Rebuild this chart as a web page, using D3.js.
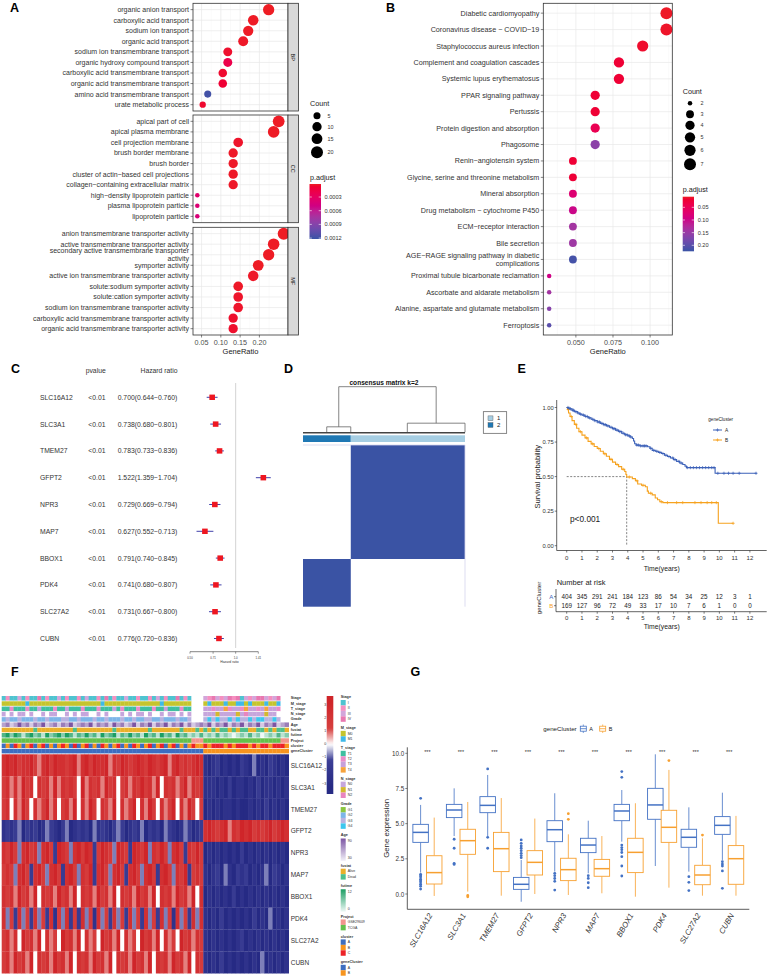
<!DOCTYPE html>
<html>
<head>
<meta charset="utf-8">
<title>Figure</title>
<script src="https://cdn.jsdelivr.net/npm/d3@7/dist/d3.min.js"></script>
<style>
body { margin: 0; background: #fff; }
svg { font-family: "Liberation Sans", Arial, Helvetica, sans-serif; }
</style>
</head>
<body>
<svg id="fig" width="769" height="978"></svg>
<script>
// ---------- A: GO enrichment ----------
const bpTerms = ['organic anion transport', 'carboxylic acid transport', 'sodium ion transport', 'organic acid transport', 'sodium ion transmembrane transport', 'organic hydroxy compound transport', 'carboxylic acid transmembrane transport', 'organic acid transmembrane transport', 'amino acid transmembrane transport', 'urate metabolic process'];
const bpCount = [17, 14, 13, 12, 9, 9, 8, 8, 5, 4];
const bpRatio = [0.224, 0.184, 0.171, 0.158, 0.118, 0.118, 0.105, 0.105, 0.066, 0.053];
const bpPadj = [0.000015, 0.00002, 0.00002, 0.00003, 0.00005, 0.00018, 0.00006, 0.00008, 0.00118, 0.00006];

const ccTerms = ['apical part of cell', 'apical plasma membrane', 'cell projection membrane', 'brush border membrane', 'brush border', 'cluster of actin−based cell projections', 'collagen−containing extracellular matrix', 'high−density lipoprotein particle', 'plasma lipoprotein particle', 'lipoprotein particle'];
const ccCount = [19, 18, 11, 10, 10, 10, 10, 3, 3, 3];
const ccRatio = [0.250, 0.237, 0.145, 0.132, 0.132, 0.132, 0.132, 0.039, 0.039, 0.039];
const ccPadj = [0.00002, 0.00002, 0.00004, 0.00003, 0.00003, 0.00003, 0.00003, 0.00036, 0.0004, 0.00043];

const mfTerms = ['anion transmembrane transporter activity', 'active transmembrane transporter activity', 'secondary active transmembrane transporter activity', 'symporter activity', 'active ion transmembrane transporter activity', 'solute:sodium symporter activity', 'solute:cation symporter activity', 'sodium ion transmembrane transporter activity', 'carboxylic acid transmembrane transporter activity', 'organic acid transmembrane transporter activity'];
const mfCount = [20, 18, 17, 15, 14, 11, 11, 11, 10, 10];
const mfRatio = [0.263, 0.237, 0.224, 0.197, 0.184, 0.145, 0.145, 0.145, 0.132, 0.132];
const mfPadj = [0.000015, 0.00002, 0.00002, 0.00002, 0.00003, 0.00003, 0.00004, 0.00004, 0.00005, 0.00005];

const goTicks = [0.05, 0.10, 0.15, 0.20];
const goMinor = [0.075, 0.125, 0.175, 0.225];
const goLegCounts = [5, 10, 15, 20];
const goLegPadj = [0.0003, 0.0006, 0.0009, 0.0012];

// ---------- B: KEGG ----------
const keggTerms = ['Diabetic cardiomyopathy', 'Coronavirus disease − COVID−19', 'Staphylococcus aureus infection', 'Complement and coagulation cascades', 'Systemic lupus erythematosus', 'PPAR signaling pathway', 'Pertussis', 'Protein digestion and absorption', 'Phagosome', 'Renin−angiotensin system', 'Glycine, serine and threonine metabolism', 'Mineral absorption', 'Drug metabolism − cytochrome P450', 'ECM−receptor interaction', 'Bile secretion', 'AGE−RAGE signaling pathway in diabetic complications', 'Proximal tubule bicarbonate reclamation', 'Ascorbate and aldarate metabolism', 'Alanine, aspartate and glutamate metabolism', 'Ferroptosis'];
const keggCount = [7, 7, 6, 5, 5, 4, 4, 4, 4, 3, 3, 3, 3, 3, 3, 3, 2, 2, 2, 2];
const keggRatio = [0.111, 0.111, 0.095, 0.079, 0.079, 0.063, 0.063, 0.063, 0.063, 0.048, 0.048, 0.048, 0.048, 0.048, 0.048, 0.048, 0.032, 0.032, 0.032, 0.032];
const keggPadj = [0.010, 0.012, 0.015, 0.020, 0.020, 0.020, 0.020, 0.045, 0.160, 0.020, 0.022, 0.075, 0.100, 0.140, 0.145, 0.215, 0.095, 0.140, 0.165, 0.200];
const keggTicks = [0.050, 0.075, 0.100];
const keggMinor = [0.0375, 0.0625, 0.0875, 0.1125];
const keggLegCounts = [2, 3, 4, 5, 6, 7];
const keggLegPadj = [0.05, 0.10, 0.15, 0.20];

// ---------- C: univariate Cox ----------
const coxGenes = ['SLC16A12', 'SLC3A1', 'TMEM27', 'GFPT2', 'NPR3', 'MAP7', 'BBOX1', 'PDK4', 'SLC27A2', 'CUBN'];
const coxP = ['<0.01', '<0.01', '<0.01', '<0.01', '<0.01', '<0.01', '<0.01', '<0.01', '<0.01', '<0.01'];
const coxHR = [0.700, 0.738, 0.783, 1.522, 0.729, 0.627, 0.791, 0.741, 0.731, 0.776];
const coxLo = [0.644, 0.680, 0.733, 1.359, 0.669, 0.552, 0.740, 0.680, 0.667, 0.720];
const coxHi = [0.760, 0.801, 0.836, 1.704, 0.794, 0.713, 0.845, 0.807, 0.800, 0.836];
const coxTicks = [0.50, 0.71, 1.0, 1.41];
const coxTickLabels = ['0.50', '0.71', '1.0', '1.41'];

// ---------- D: consensus matrix ----------
const consSizes = [404, 169];
const consColors = ['#A6CEE3', '#1F78B4'];
const dendroLeft = { kids: [84, 169], h: 0.12 };
const dendroRight = { kids: [369, 573], h: 0.2 };

// ---------- E: Kaplan-Meier ----------
const survA = [[0, 1], [0.1, 0.995], [0.2, 0.99], [0.35, 0.98], [0.5, 0.97], [0.7, 0.96], [0.85, 0.952], [1.0, 0.945], [1.2, 0.935], [1.4, 0.925], [1.6, 0.915], [1.8, 0.905], [2.0, 0.895], [2.2, 0.885], [2.4, 0.876], [2.6, 0.867], [2.8, 0.857], [3.0, 0.847], [3.2, 0.836], [3.4, 0.826], [3.6, 0.814], [3.8, 0.803], [4.0, 0.795], [4.15, 0.787], [4.3, 0.776], [4.38, 0.758], [4.45, 0.738], [4.55, 0.728], [4.8, 0.722], [5.3, 0.716], [5.45, 0.705], [5.6, 0.69], [5.8, 0.683], [6.0, 0.675], [6.2, 0.667], [6.4, 0.655], [6.6, 0.645], [6.8, 0.635], [7.0, 0.623], [7.2, 0.61], [7.4, 0.598], [7.6, 0.588], [7.75, 0.576], [7.85, 0.565], [9.72, 0.524], [12.45, 0.524]];
const survB = [[0, 1], [0.05, 0.985], [0.12, 0.96], [0.22, 0.935], [0.35, 0.905], [0.5, 0.878], [0.65, 0.85], [0.8, 0.825], [1.0, 0.8], [1.2, 0.78], [1.4, 0.755], [1.6, 0.737], [1.8, 0.718], [2.0, 0.703], [2.2, 0.683], [2.4, 0.665], [2.6, 0.647], [2.8, 0.625], [3.0, 0.605], [3.2, 0.588], [3.4, 0.572], [3.6, 0.553], [3.8, 0.537], [3.88, 0.515], [3.93, 0.497], [4.3, 0.485], [4.5, 0.47], [4.65, 0.447], [4.9, 0.437], [5.15, 0.427], [5.28, 0.395], [5.35, 0.38], [5.6, 0.368], [5.8, 0.345], [5.95, 0.333], [6.1, 0.318], [6.3, 0.312], [9.93, 0.162], [10.92, 0.162]];
const censA = [0.08, 0.15, 0.25, 0.4, 0.45, 0.6, 0.75, 0.9, 1.1, 1.25, 1.35, 1.5, 1.7, 1.85, 2.05, 2.15, 2.3, 2.45, 2.55, 2.7, 2.9, 3.05, 3.15, 3.3, 3.45, 3.55, 3.7, 3.85, 3.95, 4.1, 4.2, 4.6, 4.7, 4.85, 5.0, 5.1, 5.2, 5.5, 5.7, 5.9, 6.1, 6.3, 6.5, 6.7, 6.95, 7.1, 7.35, 7.5, 7.9, 8.1, 8.3, 8.5, 8.7, 8.9, 9.1, 9.3, 9.5, 9.65, 9.9, 10.3, 10.6, 10.9, 11.3, 12.4];
const censB = [0.1, 0.3, 0.6, 0.9, 1.3, 1.7, 2.1, 2.5, 2.9, 3.3, 3.7, 4.1, 4.6, 5.0, 5.5, 6.2, 6.6, 7.2, 7.6, 8.4, 8.8, 9.2, 9.5, 9.8, 10.9];
const timeTicks = [0, 1, 2, 3, 4, 5, 6, 7, 8, 9, 10, 11, 12];
const survTicks = [0, 0.25, 0.5, 0.75, 1];
const riskA = [404, 345, 291, 241, 184, 123, 86, 54, 34, 25, 12, 3, 1];
const riskB = [169, 127, 96, 72, 49, 33, 17, 10, 7, 6, 1, 0, 0];

// ---------- F: heatmap (levels 0..8 per sample block; part A | part B) ----------
const heatGenes = ['SLC16A12', 'SLC3A1', 'TMEM27', 'GFPT2', 'NPR3', 'MAP7', 'BBOX1', 'PDK4', 'SLC27A2', 'CUBN'];
const heatA = [
  '787867786578687767857868778576876787687678578676787',
  '675758674767585767648576758674675768675847675685767',
  '674758647568574675847586476584756847586475684758646',
  '121230212013210230121203121023201213021203210132012',
  '768637867378628763786872687638762876837686378627686',
  '676378627863786278637682786378627863786278637682676',
  '767586758476758675847675867584767586758476758675847',
  '736273627362716372627361736273627362736273617362737',
  '675748675847564867584756486758475648675847564867576',
  '675867584767586758476758675847675867584767586758476'];
const heatB = [
  '101201010210301021010',
  '111010201101020110101',
  '010101101001010201010',
  '787678576878676786787',
  '010101010201010101010',
  '101203102120101302101',
  '010101020101010101010',
  '101020101010201030101',
  '101010101201010101010',
  '101020101010103010101'];
const annNames = ['Stage', 'M_stage', 'T_stage', 'N_stage', 'Grade', 'Age', 'fustat', 'futime', 'Project', 'cluster', 'geneCluster'];
const annA = [
  '121131211412113121121311214121131121121312114121...',
  '000000100000000000000000010000000000000010000000...',
  '112111211311121131112111211131211121112113111211...',
  '0.0.00.0..0.00..0.0.00..0.0...0.0.00.0..0.00.0.0...',
  '232232223223222332232223223222322322332232223223...',
  '231242313241231324123241323142312413241324132413123',
  'aaaaaaaadaaaaaaaaadaaaaaaaaadaaaaaaaadaaaaaaadaaada',
  '342431342314234243132423142341324231423142314231213',
  'TTTTTTTTTTTTTTTTTTTTTTTTTTTTTTTTTTTTTTTTTTTTTTTTGGG',
  'abacbabcabcababcbacabcabacbabcabacbabcabcabcababcbb',
  'aaaaaaaaaaaaaaaaaaaaaaaaaaaaaaaaaaaaaaaaaaaaaaaaaaa'];
const annB = [
  '3243234241323443234..',
  '0100010011010001001..',
  '3323342332433234332..',
  '000100001020000100...',
  '3434334343343443343..',
  '241324132413241324123',
  'dadaddadaddaaddadadda',
  '121312101213120121312',
  'TTTTTTTTTTTTTTTTTTTGG',
  'cbcccbcbcccbcbccbcccb',
  'bbbbbbbbbbbbbbbbbbbbb'];
const heatLegTicks = [3, 2, 1, 0, -1, -2, -3];

// ---------- G: expression boxplots [lower, q1, median, q3, upper] ----------
const boxGenes = ['SLC16A12', 'SLC3A1', 'TMEM27', 'GFPT2', 'NPR3', 'MAP7', 'BBOX1', 'PDK4', 'SLC27A2', 'CUBN'];
const boxA = [[1.52, 3.67, 4.38, 4.95, 6.33], [4.12, 5.43, 5.97, 6.37, 7.51], [4.12, 5.78, 6.30, 6.92, 8.46], [-0.55, 0.33, 0.69, 1.18, 2.42], [1.59, 3.72, 4.57, 5.21, 7.16], [1.47, 2.94, 3.48, 3.96, 5.21], [3.72, 5.21, 5.90, 6.37, 7.39], [1.99, 5.31, 6.33, 7.51, 9.93], [1.59, 3.32, 4.03, 4.60, 6.16], [2.42, 4.24, 4.88, 5.50, 7.20]];
const boxB = [[-0.14, 0.71, 1.52, 2.72, 5.43], [0.17, 2.82, 3.79, 4.60, 6.54], [-0.12, 1.59, 3.22, 4.38, 6.82], [0.00, 1.35, 2.25, 3.08, 5.36], [-0.07, 0.95, 1.73, 2.54, 4.24], [0.05, 1.26, 1.80, 2.46, 4.12], [-0.19, 1.52, 2.96, 3.96, 6.45], [0.45, 3.67, 4.74, 5.95, 8.82], [-0.12, 0.66, 1.35, 2.04, 3.96], [-0.12, 0.69, 2.51, 3.44, 5.55]];
const outA = [[6.8, 1.4, 1.3, 1.2, 1.05, 0.95, 0.85, 0.7, 0.55, 0.35], [3.89, 3.25, 2.18, 2.1], [8.89, 4.03, 3.25], [3.84, 3.6, 3.41, 3.25, 3.08, 2.89, 2.73, 2.58], [1.47, 1.3, 1.1, 0.9, 0.28], [1.3, 1.11, 0.8, 0.45], [8.7, 8.29, 3.48, 3.3, 3.15, 2.95, 2.65, 1.99, 1.28], [], [1.23, 0.83, 0.24], [2.3, 2.13, 1.99, 1.64, 0.4]];
const outB = [[], [-0.1, -0.2], [], [], [5.71, 5.31], [], [], [9.48], [4.19], []];
const exprTicks = [0, 2.5, 5, 7.5, 10];

// =====================================================================
const svg = d3.select('#fig');
const defs = svg.append('defs');
const TXT = '#333';
const BLUE_A = '#3D62B9', ORANGE_B = '#F6A21E';

function txt(g, x, y, s, size, o = {}) {
  const t = g.append('text').attr('x', x).attr('y', y).text(s)
    .style('font-size', size + 'px').attr('fill', o.fill || TXT);
  if (o.anchor) t.attr('text-anchor', o.anchor);
  if (o.weight) t.style('font-weight', o.weight);
  if (o.italic) t.style('font-style', 'italic');
  if (o.base) t.attr('dominant-baseline', o.base);
  if (o.rot != null) t.attr('transform', `rotate(${o.rot},${x},${y})`);
  return t;
}
function seg(g, x1, y1, x2, y2, col, w) {
  return g.append('line').attr('x1', x1).attr('y1', y1).attr('x2', x2).attr('y2', y2)
    .attr('stroke', col).attr('stroke-width', w);
}

// panel letters
[['A', 10, 11.7], ['B', 386, 11.7], ['C', 11, 373], ['D', 284, 373], ['E', 517.5, 373], ['F', 11, 676], ['G', 410.5, 676]]
  .forEach(d => txt(svg, d[1], d[2], d[0], 12.5, { weight: 'bold', fill: '#000' }));

// ---------- dot plot helpers ----------
const padjScale = dom => d3.scaleLinear().domain(dom).range(['#EE1D24', '#3953A5']).interpolate(d3.interpolateHcl).clamp(true);
function sizeFn(lo, hi) {
  const s = d3.scaleLinear().domain([0, 1]).range([2.25, 6]);
  return n => s(Math.sqrt((n - lo) / (hi - lo)));
}
function wrapLabel(s, w) {
  if (s.length <= 50) return [s];
  const lines = []; let cur = '';
  s.split(' ').forEach(wd => {
    const nx = cur ? cur + ' ' + wd : wd;
    if (nx.length > w && cur) { lines.push(cur); cur = wd; } else cur = nx;
  });
  lines.push(cur);
  return lines;
}
function dotPanel(g, terms, counts, ratios, padj, x, top, bottom, color, radius, fs, major, minor) {
  const y = d3.scalePoint().domain(terms).range([top, bottom]).padding(0.6);
  const [x0, x1] = x.range();
  g.append('rect').attr('x', x0).attr('y', top).attr('width', x1 - x0).attr('height', bottom - top).attr('fill', '#fff');
  minor.forEach(v => seg(g, x(v), top, x(v), bottom, '#F2F2F2', 0.4));
  major.forEach(v => seg(g, x(v), top, x(v), bottom, '#E8E8E8', 0.7));
  terms.forEach(t => seg(g, x0, y(t), x1, y(t), '#E8E8E8', 0.7));
  g.selectAll(null).data(terms).join('circle')
    .attr('cx', (d, i) => x(ratios[i])).attr('cy', d => y(d))
    .attr('r', (d, i) => radius(counts[i])).attr('fill', (d, i) => color(padj[i]));
  g.append('rect').attr('x', x0).attr('y', top).attr('width', x1 - x0).attr('height', bottom - top)
    .attr('fill', 'none').attr('stroke', '#333').attr('stroke-width', 0.8);
  terms.forEach(t => {
    seg(g, x0 - 2.5, y(t), x0, y(t), '#333', 0.6);
    const lines = wrapLabel(t, 43);
    const tx = g.append('text').attr('text-anchor', 'end').style('font-size', fs + 'px').attr('fill', TXT);
    lines.forEach((ln, j) => tx.append('tspan').attr('x', x0 - 4)
      .attr('y', y(t) + (j - (lines.length - 1) / 2) * fs * 1.15).attr('dy', '0.35em').text(ln));
  });
  return y;
}
function dotXAxis(g, x, yb, ticks, fmt) {
  ticks.forEach(v => {
    seg(g, x(v), yb, x(v), yb + 2.5, '#333', 0.6);
    txt(g, x(v), yb + 9.5, fmt(v), 7.2, { anchor: 'middle', fill: '#4D4D4D' });
  });
  const [x0, x1] = x.range();
  txt(g, (x0 + x1) / 2, yb + 18.5, 'GeneRatio', 7.5, { anchor: 'middle', fill: '#1A1A1A' });
}
let gradN = 0;
function colorbar(g, scale, dom, x, y, w, h, ticks, fmt, labelX) {
  const id = 'grad' + (gradN++);
  const grad = defs.append('linearGradient').attr('id', id).attr('x1', 0).attr('y1', 0).attr('x2', 0).attr('y2', 1);
  d3.range(0, 21).forEach(i => grad.append('stop').attr('offset', i / 20).attr('stop-color', scale(dom[0] + i / 20 * (dom[1] - dom[0]))));
  g.append('rect').attr('x', x).attr('y', y).attr('width', w).attr('height', h).attr('fill', `url(#${id})`);
  const yb = d3.scaleLinear().domain(dom).range([y, y + h]);
  ticks.forEach(v => {
    seg(g, x, yb(v), x + w * 0.2, yb(v), '#fff', 0.6);
    seg(g, x + w * 0.8, yb(v), x + w, yb(v), '#fff', 0.6);
    txt(g, labelX, yb(v), fmt(v), 5.6, { base: 'central' });
  });
}

// ---------- Panel A ----------
const gA = svg.append('g');
const aRatios = bpRatio.concat(ccRatio, mfRatio);
const aCounts = bpCount.concat(ccCount, mfCount);
const [ar0, ar1] = d3.extent(aRatios);
const xA = d3.scaleLinear().domain([ar0 - (ar1 - ar0) * 0.05, ar1 + (ar1 - ar0) * 0.05]).range([193, 288]);
const rA = sizeFn(d3.min(aCounts), d3.max(aCounts));
const cAdom = [0.000015, 0.00122];
const cA = padjScale(cAdom);
const facetH = 107.7;
[[bpTerms, bpCount, bpRatio, bpPadj, 'BP', 3.3], [ccTerms, ccCount, ccRatio, ccPadj, 'CC', 115], [mfTerms, mfCount, mfRatio, mfPadj, 'MF', 227.3]]
  .forEach(f => {
    dotPanel(gA, f[0], f[1], f[2], f[3], xA, f[5], f[5] + facetH, cA, rA, 7, goTicks, goMinor);
    gA.append('rect').attr('x', 288).attr('y', f[5]).attr('width', 10.5).attr('height', facetH)
      .attr('fill', '#D9D9D9').attr('stroke', '#333').attr('stroke-width', 0.8);
    txt(gA, 293.3, f[5] + facetH / 2, f[4], 5.5, { anchor: 'middle', base: 'central', rot: 90, fill: '#1A1A1A' });
  });
dotXAxis(gA, xA, 227.3 + facetH, goTicks, v => v.toFixed(2));
txt(gA, 310, 105.8, 'Count', 7.2, { fill: '#1A1A1A' });
const aLegY = [115.7, 126.7, 138.7, 152.3];
goLegCounts.forEach((c, i) => {
  gA.append('circle').attr('cx', 317).attr('cy', aLegY[i]).attr('r', rA(c)).attr('fill', '#000');
  txt(gA, 327.5, aLegY[i], String(c), 5.4, { base: 'central' });
});
txt(gA, 310, 179.5, 'p.adjust', 7.2, { fill: '#1A1A1A' });
colorbar(gA, cA, cAdom, 309.5, 184, 11.5, 55, goLegPadj, v => v.toFixed(4), 324.5);

// ---------- Panel B ----------
const gB = svg.append('g');
const [br0, br1] = d3.extent(keggRatio);
const xB = d3.scaleLinear().domain([br0 - (br1 - br0) * 0.05, br1 + (br1 - br0) * 0.05]).range([543.3, 672.3]);
const rB = sizeFn(d3.min(keggCount), d3.max(keggCount));
const cBdom = [0.008, 0.2237];
const cB = padjScale(cBdom);
dotPanel(gB, keggTerms, keggCount, keggRatio, keggPadj, xB, 3.3, 335, cB, rB, 7.2, keggTicks, keggMinor);
dotXAxis(gB, xB, 335, keggTicks, v => v.toFixed(3));
txt(gB, 682.7, 93.5, 'Count', 7.2, { fill: '#1A1A1A' });
const bLegY = [103.3, 114.3, 125.3, 137.3, 150.3, 164.3];
keggLegCounts.forEach((c, i) => {
  gB.append('circle').attr('cx', 690).attr('cy', bLegY[i]).attr('r', rB(c)).attr('fill', '#000');
  txt(gB, 700.5, bLegY[i], String(c), 5.4, { base: 'central' });
});
txt(gB, 682.7, 191.8, 'p.adjust', 7.2, { fill: '#1A1A1A' });
colorbar(gB, cB, cBdom, 682.7, 196.7, 11.3, 54.6, keggLegPadj, v => v.toFixed(2), 697.7);

// ---------- Panel C ----------
const gC = svg.append('g');
const yC = d3.scalePoint().domain(coxGenes).range([397.3, 638.5]);
const xC = d3.scaleLog().base(2).domain([0.5, 1.41]).range([190, 258.3]);
txt(gC, 95.7, 373.3, 'pvalue', 6.8, { anchor: 'middle' });
txt(gC, 159, 373.3, 'Hazard ratio', 6.8, { anchor: 'middle' });
seg(gC, xC(1), 383, xC(1), 648, '#C8C8C8', 0.8);
coxGenes.forEach((g, i) => {
  const yy = yC(g);
  txt(gC, 40, yy, g, 6.8, { base: 'central' });
  txt(gC, 88.3, yy, coxP[i], 6.8, { base: 'central' });
  txt(gC, 117.7, yy, `${coxHR[i].toFixed(3)}(${coxLo[i].toFixed(3)}−${coxHi[i].toFixed(3)})`, 6.8, { base: 'central' });
  seg(gC, xC(coxLo[i]), yy, xC(coxHi[i]), yy, '#2B2BA0', 0.9);
  gC.append('rect').attr('x', xC(coxHR[i]) - 2.8).attr('y', yy - 2.7).attr('width', 5.6).attr('height', 5.4).attr('fill', '#EE1620');
});
seg(gC, xC(0.5), 651.7, xC(1.41), 651.7, '#333', 0.6);
coxTicks.forEach((v, i) => {
  seg(gC, xC(v), 651.7, xC(v), 653.7, '#333', 0.5);
  txt(gC, xC(v), 658.8, coxTickLabels[i], 2.8, { anchor: 'middle' });
});
txt(gC, 229.5, 663, 'Hazard ratio', 3.4, { anchor: 'middle' });

// ---------- Panel D ----------
const gD = svg.append('g');
const nS = d3.sum(consSizes);
const xD = d3.scaleLinear().domain([0, nS]).range([303, 465]);
const yD = d3.scaleLinear().domain([0, nS]).range([445, 606.7]);
const hD = d3.scaleLinear().domain([0, 1]).range([432.3, 386.7]);
txt(gD, 384, 384.5, 'consensus matrix k=2', 6.6, { anchor: 'middle', weight: 'bold', fill: '#111' });
// column order: cluster 2 then cluster 1; row order: cluster 1 then cluster 2
const c2 = consSizes[1];
gD.append('rect').attr('x', xD(c2)).attr('y', yD(0)).attr('width', xD(nS) - xD(c2)).attr('height', yD(consSizes[0]) - yD(0)).attr('fill', '#3A53A4');
gD.append('rect').attr('x', xD(0)).attr('y', yD(consSizes[0])).attr('width', xD(c2) - xD(0)).attr('height', yD(nS) - yD(consSizes[0])).attr('fill', '#3A53A4');
seg(gD, xD(0), yD(0), xD(nS), yD(0), '#D4D4EE', 0.8);
seg(gD, xD(nS), yD(0), xD(nS), yD(nS), '#D4D4EE', 0.8);
gD.append('rect').attr('x', xD(0)).attr('y', 435.3).attr('width', xD(c2) - xD(0)).attr('height', 6.7).attr('fill', consColors[1]);
gD.append('rect').attr('x', xD(c2)).attr('y', 435.3).attr('width', xD(nS) - xD(c2)).attr('height', 6.7).attr('fill', consColors[0]);
const midL = d3.mean(dendroLeft.kids), midR = d3.mean(dendroRight.kids);
const dCol = '#666';
seg(gD, xD(midL), hD(1), xD(midR), hD(1), dCol, 0.8);
seg(gD, xD(midL), hD(1), xD(midL), hD(dendroLeft.h), dCol, 0.8);
seg(gD, xD(midR), hD(1), xD(midR), hD(dendroRight.h), dCol, 0.8);
[dendroLeft, dendroRight].forEach(n => {
  seg(gD, xD(n.kids[0]), hD(n.h), xD(n.kids[1]), hD(n.h), dCol, 0.8);
  n.kids.forEach(k => seg(gD, xD(k), hD(n.h), xD(k), hD(0), dCol, 0.8));
});
seg(gD, xD(0), hD(0) + 0.5, xD(nS), hD(0) + 0.5, '#444', 1.6);
gD.append('rect').attr('x', 483.3).attr('y', 411.7).attr('width', 23.4).attr('height', 21.6).attr('fill', '#fff').attr('stroke', '#555').attr('stroke-width', 0.7);
consColors.forEach((c, i) => {
  const yy = 418.3 + i * 6.7;
  gD.append('rect').attr('x', 488).attr('y', yy - 2.4).attr('width', 5).attr('height', 4.8).attr('fill', c).attr('stroke', '#555').attr('stroke-width', 0.4);
  txt(gD, 497, yy, String(i + 1), 6, { base: 'central', fill: '#222' });
});

// ---------- Panel E ----------
const gE = svg.append('g');
const xE = d3.scaleLinear().domain([0, 12]).range([566.7, 749.9]);
const yE = d3.scaleLinear().domain([0, 1]).range([545.7, 407.5]);
const eL = 556.7, eB = 550.5;
seg(gE, eL, 400, eL, eB, '#222', 0.7);
seg(gE, eL, eB, 766.7, eB, '#222', 0.7);
survTicks.forEach(v => {
  seg(gE, eL - 2, yE(v), eL, yE(v), '#222', 0.6);
  txt(gE, eL - 3, yE(v), v.toFixed(2), 5.8, { anchor: 'end', base: 'central' });
});
timeTicks.forEach(t => {
  seg(gE, xE(t), eB, xE(t), eB + 2, '#222', 0.6);
  txt(gE, xE(t), eB + 9.8, String(t), 6, { anchor: 'middle' });
});
txt(gE, 661.7, 571, 'Time(years)', 6.8, { anchor: 'middle', fill: '#222' });
txt(gE, 540.3, 476.7, 'Survival probability', 7.6, { anchor: 'middle', rot: -90, fill: '#222' });
function survAt(curve, t) { let s = 1; curve.forEach(p => { if (p[0] <= t) s = p[1]; }); return s; }
const medB = survB.find(p => p[1] <= 0.5)[0];
gE.append('path').attr('d', `M${xE(0)},${yE(0.5)}H${xE(medB)}V${yE(0)}`).attr('fill', 'none')
  .attr('stroke', '#333').attr('stroke-width', 0.6).attr('stroke-dasharray', '2,1.5');
const kmLine = d3.line().x(d => xE(d[0])).y(d => yE(d[1])).curve(d3.curveStepAfter);
function plus(g, x, y, col) {
  seg(g, x - 1.6, y, x + 1.6, y, col, 0.7);
  seg(g, x, y - 1.6, x, y + 1.6, col, 0.7);
}
[[survB, censB, ORANGE_B], [survA, censA, BLUE_A]].forEach(([cv, cs, col]) => {
  gE.append('path').attr('d', kmLine(cv)).attr('fill', 'none').attr('stroke', col).attr('stroke-width', 1.1);
  cs.forEach(t => plus(gE, xE(t), yE(survAt(cv, t)), col));
});
txt(gE, 570, 522, 'p<0.001', 8.3, { fill: '#222' });
txt(gE, 708.3, 420.8, 'geneCluster', 4.6, { fill: '#222' });
[['A', BLUE_A, 430], ['B', ORANGE_B, 440]].forEach(([lab, col, yy]) => {
  seg(gE, 713, yy, 722, yy, col, 1);
  plus(gE, 717.5, yy, col);
  txt(gE, 725, yy, lab, 4.8, { base: 'central', fill: '#222' });
});
// risk table
txt(gE, 556.7, 585, 'Number at risk', 7.5, { fill: '#222' });
const yR = d3.scalePoint().domain(['A', 'B']).range([596.7, 605.7]);
seg(gE, 556, 589, 556, 611.7, '#222', 0.7);
seg(gE, 556, 611.7, 766.7, 611.7, '#222', 0.7);
[['A', BLUE_A, riskA], ['B', ORANGE_B, riskB]].forEach(([lab, col, vals]) => {
  seg(gE, 554, yR(lab), 556, yR(lab), '#222', 0.6);
  txt(gE, 553.3, yR(lab), lab, 6, { anchor: 'end', base: 'central', fill: col });
  vals.forEach((v, i) => txt(gE, xE(timeTicks[i]), yR(lab), String(v), 6.3, { anchor: 'middle', base: 'central', fill: '#222' }));
});
timeTicks.forEach(t => {
  seg(gE, xE(t), 611.7, xE(t), 613.7, '#222', 0.6);
  txt(gE, xE(t), 620, String(t), 6, { anchor: 'middle' });
});
txt(gE, 661.7, 629, 'Time(years)', 6.8, { anchor: 'middle', fill: '#222' });
txt(gE, 541, 598, 'geneCluster', 6, { anchor: 'middle', rot: -90, fill: '#222' });

// ---------- Panel F ----------
const gF = svg.append('g');
const hmParts = [[1.7, 203.3], [203.3, 288.7]];
const heatColor = d3.scaleLinear().domain([-3.2, -1.2, 0, 1.2, 3.2])
  .range(['#262A84', '#3C3F96', '#FFFFFF', '#D6403F', '#CF2529']).clamp(true);
const lvl = c => (+c - 4) * 0.8;
const ageCol = d3.scaleLinear().domain([0, 4]).range(['#F2F0F8', '#7C55A3']);
const futCol = d3.scaleLinear().domain([0, 4]).range(['#EEF8F6', '#1C9E63']);
const annColors = [
  { '1': '#4FC3D0', '2': '#F590C0', '3': '#D3A5DA', '4': '#E978B0' },
  { '0': '#C5C42E', '1': '#3FB9E8' },
  { '1': '#3FBFA0', '2': '#EA8CC8', '3': '#C7A0DA', '4': '#F6A33C' },
  { '0': '#C6A6DC', '1': '#D3B82E', '2': '#E985C0' },
  { '1': '#8CC63F', '2': '#7DB5E8', '3': '#B8B2E0', '4': '#3DC7EE' },
  null,
  { a: '#EAB02A', d: '#4FBF8C' },
  null,
  { G: '#F2948C', T: '#63BF4B' },
  { a: '#3D6DC0', b: '#F7931E', c: '#EC2227' },
  { a: '#3D6DC0', b: '#F7941E' }];
function annFill(i, ch) {
  if (ch === '.') return '#fff';
  if (i === 5) return ageCol(+ch);
  if (i === 7) return futCol(+ch);
  return annColors[i][ch];
}
function stripRow(g, parts, y, h, fillOf) {
  parts.forEach((s, k) => {
    const [xa, xb] = hmParts[k];
    const w = (xb - xa) / s.length;
    g.selectAll(null).data(s.split('')).join('rect')
      .attr('x', (d, i) => xa + i * w).attr('y', y).attr('width', w + 0.3).attr('height', h)
      .attr('fill', d => fillOf(d));
  });
}
const yAnn = d3.scaleBand().domain(annNames).range([696, 753.4]).paddingInner(0.14);
annNames.forEach((nm, i) => {
  stripRow(gF, [annA[i], annB[i]], yAnn(nm), yAnn.bandwidth(), ch => annFill(i, ch));
  txt(gF, 290.7, yAnn(nm) + yAnn.bandwidth() / 2, nm, 3.8, { base: 'central', weight: 'bold', fill: '#333' });
});
const yHeat = d3.scaleBand().domain(heatGenes).range([754.3, 973.3]);
heatGenes.forEach((gn, i) => {
  stripRow(gF, [heatA[i], heatB[i]], yHeat(gn), yHeat.bandwidth() + 0.2, ch => heatColor(lvl(ch)));
  txt(gF, 290.7, yHeat(gn) + yHeat.bandwidth() / 2, gn, 6.5, { base: 'central' });
});
// heat colour bar
const hbDom = [3.7, -3.8];
const hGrad = defs.append('linearGradient').attr('id', 'heatbar').attr('x1', 0).attr('y1', 0).attr('x2', 0).attr('y2', 1);
d3.range(0, 41).forEach(i => hGrad.append('stop').attr('offset', i / 40).attr('stop-color', heatColor(hbDom[0] + i / 40 * (hbDom[1] - hbDom[0]))));
gF.append('rect').attr('x', 326.7).attr('y', 696).attr('width', 6.6).attr('height', 98).attr('fill', 'url(#heatbar)');
const yHb = d3.scaleLinear().domain(hbDom).range([696, 794]);
heatLegTicks.forEach(v => txt(gF, 326.2, yHb(v), String(v).replace('-', '−'), 3.6, { anchor: 'end', base: 'central' }));
// annotation legends
const legDefs = [
  ['Stage', ['I', 'II', 'III', 'IV'], ['1', '2', '3', '4']],
  ['M_stage', ['M0', 'M1'], ['0', '1']],
  ['T_stage', ['T1', 'T2', 'T3', 'T4'], ['1', '2', '3', '4']],
  ['N_stage', ['N0', 'N1', 'N2'], ['0', '1', '2']],
  ['Grade', ['G1', 'G2', 'G3', 'G4'], ['1', '2', '3', '4']],
  ['Age', ['90', '30'], null],
  ['fustat', ['Alive', 'Dead'], ['a', 'd']],
  ['futime', ['12', '0'], null],
  ['Project', ['GSE29609', 'TCGA'], ['G', 'T']],
  ['cluster', ['A', 'B', 'C'], ['a', 'b', 'c']],
  ['geneCluster', ['A', 'B'], ['a', 'b']]];
let ly = 697.3;
legDefs.forEach(([title, labs, codes], gi) => {
  txt(gF, 340.7, ly, title, 3.8, { base: 'central', weight: 'bold', fill: '#333' });
  const y0 = ly + 5.4;
  if (codes) {
    codes.forEach((c, j) => {
      const yy = y0 + j * 5.45;
      gF.append('rect').attr('x', 340.7).attr('y', yy - 2.7).attr('width', 5).attr('height', 5.45).attr('fill', annColors[gi][c]);
      txt(gF, 347.7, yy, labs[j], 3.5, { base: 'central' });
    });
    ly = y0 + (codes.length - 1) * 5.45 + 9.1;
  } else {
    const sc = gi === 5 ? ageCol : futCol;
    const id = 'leg' + gi;
    const gr = defs.append('linearGradient').attr('id', id).attr('x1', 0).attr('y1', 0).attr('x2', 0).attr('y2', 1);
    d3.range(0, 11).forEach(i => gr.append('stop').attr('offset', i / 10).attr('stop-color', sc(4 - i * 0.4)));
    gF.append('rect').attr('x', 340.7).attr('y', ly + 3.3).attr('width', 5).attr('height', 22.4).attr('fill', `url(#${id})`);
    txt(gF, 347.7, ly + 6, labs[0], 3.5, { base: 'central' });
    txt(gF, 347.7, ly + 22.7, labs[1], 3.5, { base: 'central' });
    ly += 30.8;
  }
});

// ---------- Panel G ----------
const gG = svg.append('g');
const xG = d3.scalePoint().domain(boxGenes).range([407.3, 749.3]).padding(0.6);
const yG = d3.scaleLinear().domain([0, 10]).range([894, 753.3]);
seg(gG, 407.3, 747.3, 407.3, 909.3, '#333', 0.8);
seg(gG, 407.3, 909.3, 749.3, 909.3, '#333', 0.8);
exprTicks.forEach(v => {
  seg(gG, 405.3, yG(v), 407.3, yG(v), '#333', 0.6);
  txt(gG, 404.3, yG(v), v.toFixed(1), 6.3, { anchor: 'end', base: 'central' });
});
txt(gG, 389, 828.3, 'Gene expression', 7.8, { anchor: 'middle', rot: -90, fill: '#222' });
const bw = 15.5, off = 6.8;
function drawBox(cx, st, col, outs) {
  seg(gG, cx, yG(st[0]), cx, yG(st[1]), col, 0.8);
  seg(gG, cx, yG(st[3]), cx, yG(st[4]), col, 0.8);
  gG.append('rect').attr('x', cx - bw / 2).attr('y', yG(st[3])).attr('width', bw).attr('height', yG(st[1]) - yG(st[3]))
    .attr('fill', '#fff').attr('stroke', col).attr('stroke-width', 0.9);
  seg(gG, cx - bw / 2, yG(st[2]), cx + bw / 2, yG(st[2]), col, 1.5);
  outs.forEach(v => gG.append('circle').attr('cx', cx).attr('cy', yG(v)).attr('r', 1.4).attr('fill', col));
}
boxGenes.forEach((gn, i) => {
  const c = xG(gn);
  drawBox(c - off, boxA[i], '#4472C4', outA[i]);
  drawBox(c + off, boxB[i], '#F7A030', outB[i]);
  txt(gG, c, 752, '***', 5.5, { anchor: 'middle', base: 'central' });
  txt(gG, c + 3, 914, gn, 7.8, { anchor: 'end', italic: true, rot: -60, base: 'central' });
});
txt(gG, 543.3, 730.7, 'geneCluster', 6.2, { fill: '#222' });
[['A', '#4472C4', 583.3], ['B', '#F7A030', 602.7]].forEach(([lab, col, cx]) => {
  seg(gG, cx, 724.5, cx, 733, col, 0.7);
  gG.append('rect').attr('x', cx - 3).attr('y', 726.2).attr('width', 6).attr('height', 5).attr('fill', '#fff').attr('stroke', col).attr('stroke-width', 0.8);
  seg(gG, cx - 3, 728.7, cx + 3, 728.7, col, 0.8);
  txt(gG, cx + 6, 728.7, lab, 5.5, { base: 'central', fill: '#222' });
});
</script>
</body>
</html>
